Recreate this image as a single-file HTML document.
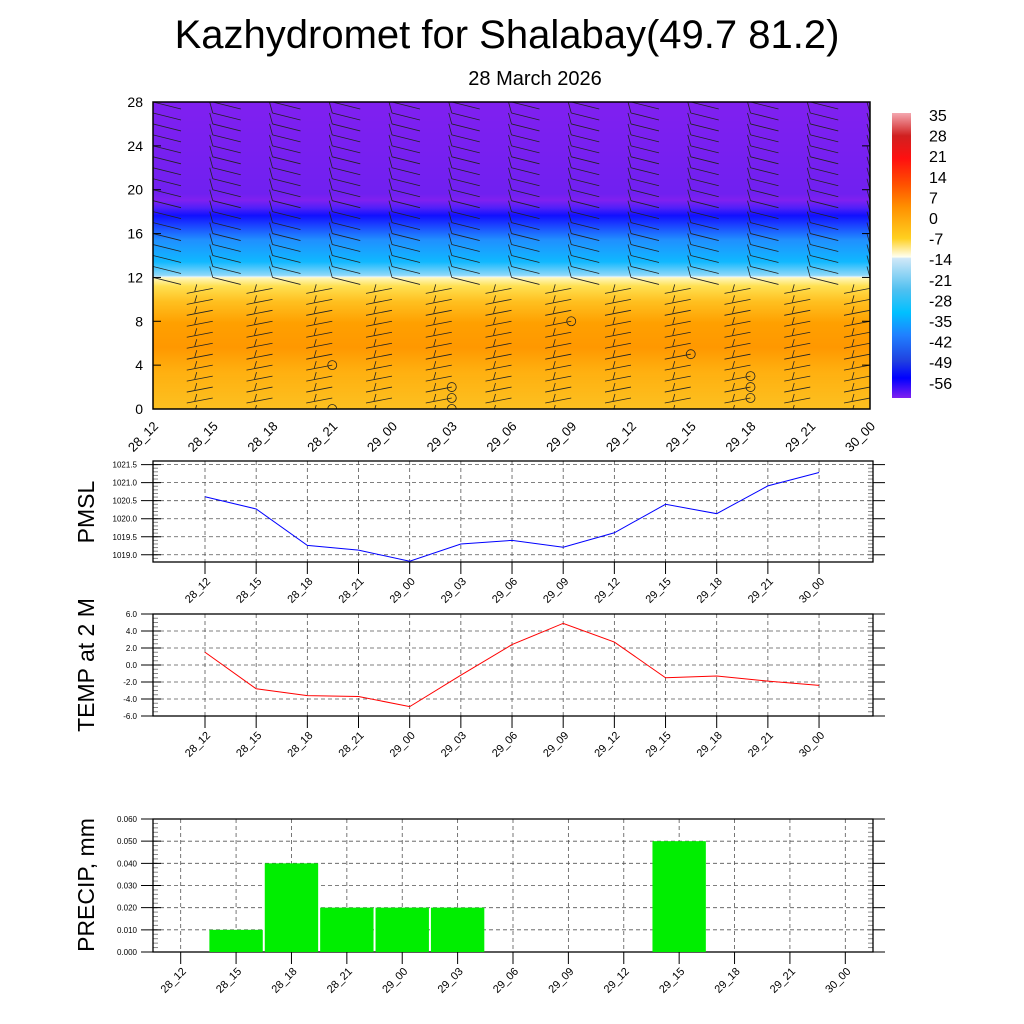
<!DOCTYPE html>
<html><head><meta charset="utf-8"><style>
body{margin:0;background:#fff;}
svg{display:block;font-family:"Liberation Sans",sans-serif;}
</style></head><body>
<svg id="c" width="1024" height="1024" viewBox="0 0 1024 1024" xmlns="http://www.w3.org/2000/svg">
<defs>
<clipPath id="clipTop"><rect x="153" y="102" width="717" height="307"/></clipPath>
<linearGradient id="field" x1="0" y1="0" x2="0" y2="1">
<stop offset="0" stop-color="#8020f0"/><stop offset="0.30" stop-color="#7020f0"/>
<stop offset="0.32" stop-color="#8020f0"/>
<stop offset="0.345" stop-color="#5020f8"/><stop offset="0.37" stop-color="#1010ff"/>
<stop offset="0.40" stop-color="#1a40ff"/><stop offset="0.45" stop-color="#2090ff"/>
<stop offset="0.52" stop-color="#10b8ff"/><stop offset="0.565" stop-color="#90d8f8"/>
<stop offset="0.57" stop-color="#e8f6ff"/><stop offset="0.572" stop-color="#fff8c0"/>
<stop offset="0.60" stop-color="#ffe050"/><stop offset="0.65" stop-color="#ffc020"/>
<stop offset="0.72" stop-color="#ffa000"/><stop offset="0.80" stop-color="#ff9800"/>
<stop offset="0.88" stop-color="#ffb010"/><stop offset="1" stop-color="#fcc020"/>
</linearGradient>
<linearGradient id="cbar" x1="0" y1="0" x2="0" y2="1">
<stop offset="0" stop-color="#f4a8b0"/><stop offset="0.08" stop-color="#d02020"/>
<stop offset="0.16" stop-color="#ff1010"/><stop offset="0.25" stop-color="#ff5000"/>
<stop offset="0.33" stop-color="#ff9000"/><stop offset="0.44" stop-color="#ffd020"/>
<stop offset="0.505" stop-color="#fffff0"/><stop offset="0.51" stop-color="#d0e8f8"/>
<stop offset="0.62" stop-color="#50c0f0"/><stop offset="0.70" stop-color="#00c0ff"/>
<stop offset="0.78" stop-color="#2080ff"/><stop offset="0.87" stop-color="#2040e0"/>
<stop offset="0.93" stop-color="#0000ff"/><stop offset="1" stop-color="#8020f0"/>
</linearGradient>
</defs>
<text x="507" y="48" font-size="40" text-anchor="middle">Kazhydromet for Shalabay(49.7 81.2)</text>
<text x="535" y="85" font-size="20" text-anchor="middle">28 March 2026</text>
<g id="top"></g>
<g id="pm"></g>
<g id="tp"></g>
<g id="pr"></g>
</svg>
<script>
const times=["28_12","28_15","28_18","28_21","29_00","29_03","29_06","29_09","29_12","29_15","29_18","29_21","30_00"];
const pmsl=[1020.61,1020.27,1019.26,1019.13,1018.82,1019.30,1019.40,1019.21,1019.61,1020.40,1020.14,1020.91,1021.28];
const temp=[1.5,-2.8,-3.6,-3.7,-4.9,-1.2,2.4,4.9,2.7,-1.5,-1.3,-1.9,-2.4];
const precip=[0,0.01,0.04,0.02,0.02,0.02,0,0,0,0.05,0,0,0];
const cbLabels=["35","28","21","14","7","0","-7","-14","-21","-28","-35","-42","-49","-56"];
const calmCol=[3,3,5,5,5,7,9,10,10,10];
const calmLev=[4,0,2,1,0,8,5,3,2,1];
const NS="http://www.w3.org/2000/svg";
function mk(p,t,a,txt){const e=document.createElementNS(NS,t);for(const k in a)e.setAttribute(k,a[k]);if(txt!==undefined)e.textContent=txt;p.appendChild(e);return e;}
const topG=document.getElementById('top');
const TL=153,TR=870,TT=102,TB=409;
const tx=i=>TL+i*(TR-TL)/12, ty=v=>TB-v*(TB-TT)/28;
let r=mk(topG,'rect',{x:TL,y:TT,width:TR-TL,height:TB-TT,fill:'url(#field)'});


const bg=mk(topG,'g',{stroke:'#222','stroke-width':0.8,fill:'none','clip-path':'url(#clipTop)'});


for(let i=0;i<13;i++){for(let v=0;v<=28;v++){const x=tx(i),y=ty(v);
 if(v>=12){mk(bg,'line',{x1:x,y1:y,x2:x+28,y2:y+7});mk(bg,'line',{x1:x,y1:y,x2:x-3,y2:y-11});}
 else{mk(bg,'line',{x1:x,y1:y,x2:x-26,y2:y+5});mk(bg,'line',{x1:x-18,y1:y+3,x2:x-16,y2:y-4});}}}
for(let k=0;k<calmCol.length;k++){const c=mk(bg,'circle',{cx:tx(calmCol[k]),cy:ty(calmLev[k]),r:4.5});

}
mk(topG,'rect',{x:TL,y:TT,width:TR-TL,height:TB-TT,fill:'none',stroke:'#000','stroke-width':1.5});
for(let v=0;v<=28;v+=4){mk(topG,'line',{x1:TL,y1:ty(v),x2:TL+8,y2:ty(v),stroke:'#000'});mk(topG,'line',{x1:TR,y1:ty(v),x2:TR-8,y2:ty(v),stroke:'#000'});
const t=mk(topG,'text',{x:TL-10,y:ty(v)+5,'font-size':14,'text-anchor':'end'},String(v));

}
times.forEach((s,i)=>{const t=mk(topG,'text',{x:tx(i)+6,y:TB+18,'font-size':13,'text-anchor':'end',transform:`rotate(-45 ${tx(i)+6} ${TB+18})`},s);

});
const cb=mk(topG,'rect',{x:892,y:113,width:19,height:285,fill:'url(#cbar)'});


cbLabels.forEach((s,i)=>{const t=mk(topG,'text',{x:929,y:121+i*20.6,'font-size':16},s);

});

function panel(g,T,B,ymin,ymax,major,minor,fmt,label,labelY,xs,fs){
 const L=153,R=873,yy=v=>B-(v-ymin)/(ymax-ymin)*(B-T);
 for(let v=ymin;v<=ymax+1e-9;v+=minor){const y=yy(v);mk(g,'line',{x1:L,y1:y,x2:L+5,y2:y,stroke:'#888'});mk(g,'line',{x1:R,y1:y,x2:R-5,y2:y,stroke:'#888'});}
 for(let v=Math.ceil(ymin/major-1e-9)*major;v<=ymax+1e-9;v+=major){const y=yy(v);
  mk(g,'line',{x1:L,y1:y,x2:R,y2:y,stroke:'#555','stroke-dasharray':'4 3','stroke-width':0.8});
  mk(g,'line',{x1:L-12,y1:y,x2:L+8,y2:y,stroke:'#000'});mk(g,'line',{x1:R,y1:y,x2:R+12,y2:y,stroke:'#000'});
  const t=mk(g,'text',{x:L-16,y:y+3,'font-size':8,'text-anchor':'end'},fmt(v));
  
  }
 xs.forEach((x,i)=>{mk(g,'line',{x1:x,y1:T,x2:x,y2:B,stroke:'#555','stroke-dasharray':'4 3','stroke-width':0.8});
  mk(g,'line',{x1:x,y1:B,x2:x,y2:B+12,stroke:'#000'});
  const t=mk(g,'text',{x:x+6,y:B+20,'font-size':11,'text-anchor':'end',transform:`rotate(-45 ${x+6} ${B+20})`},times[i]);
  
  });
 mk(g,'rect',{x:L,y:T,width:R-L,height:B-T,fill:'none',stroke:'#000','stroke-width':1.3});
 const t=mk(g,'text',{x:94,y:labelY,'font-size':fs,'text-anchor':'middle',transform:`rotate(-90 94 ${labelY})`},label);
 
 
 return yy;}
const pg=document.getElementById('pm');
const px=times.map((s,i)=>205+i*51.17);
const py=panel(pg,461,562,1018.8,1021.6,0.5,0.1,v=>v.toFixed(1),'PMSL',512,px,23);
const pl=mk(pg,'polyline',{points:pmsl.map((v,i)=>px[i]+','+py(v)).join(' '),fill:'none',stroke:'#0000ff','stroke-width':1});


const tg=document.getElementById('tp');
const ty2=panel(tg,614,716,-6,6,2,0.5,v=>v.toFixed(1),'TEMP at 2 M',665,px,23);
const tl=mk(tg,'polyline',{points:temp.map((v,i)=>px[i]+','+ty2(v)).join(' '),fill:'none',stroke:'#ff0000','stroke-width':1});


const rg=document.getElementById('pr');
const bw=(873-153)/13, rx=times.map((s,i)=>153+(i+0.5)*bw);
const ry=panel(rg,819,952,0,0.06,0.01,0.002,v=>v.toFixed(3),'PRECIP, mm',885,rx,23);
precip.forEach((v,i)=>{if(v<=0)return;const b=mk(rg,'rect',{x:rx[i]-bw/2+1,y:ry(v),width:bw-2,height:ry(0)-ry(v),fill:'#00ee00'});

});
</script>
</body></html>
